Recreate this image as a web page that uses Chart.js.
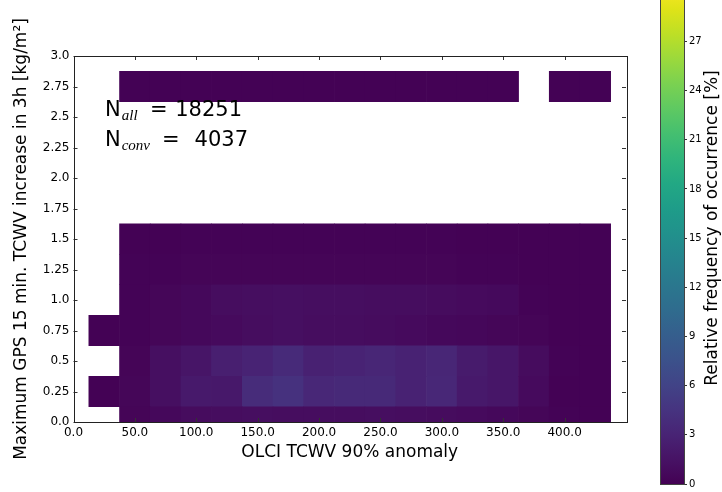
<!DOCTYPE html>
<html>
<head>
<meta charset="utf-8">
<script src="https://cdn.jsdelivr.net/npm/chart.js@4.4.1/dist/chart.umd.min.js"></script>
<style>
    html, body { margin: 0; padding: 0; background: #fff; overflow: hidden; }
    #wrap    { position: relative; width: 722px; height: 492px; overflow: hidden; }
    #mainBox { position: absolute; left: 0; top: 0; width: 650px; height: 492px; }
    #cbarBox { position: absolute; left: 640px; top: -24px; width: 82px; height: 516px; }
</style>
</head>
<body>
<div id="wrap">
    <div id="mainBox"><canvas id="hist"></canvas></div>
    <div id="cbarBox"><canvas id="cbar"></canvas></div>
</div>
<script>
// 2D histogram: OLCI TCWV anomaly vs. max GPS TCWV increase, relative frequency in %.
const xCenters = [25, 50, 75, 100, 125, 150, 175, 200, 225, 250, 275, 300, 325, 350, 375, 400, 425];
const yCenters = [0, 0.25, 0.5, 0.75, 1.0, 1.25, 1.5, 1.75, 2.0, 2.25, 2.5, 2.75];
const X_BIN = 25;
const Y_BIN = 0.25;

// one row per y bin (null = no samples in that cell)
const row000 = [null, 0.3, 0.6, 0.9, 1.0, 1.1, 1.0, 1.0, 1.0, 1.1, 1.0, 0.9, 0.8, 0.6, 0.4, 0.2, 0.1];
const row025 = [0.1, 0.4, 1.2, 2.1, 2.0, 3.8, 4.3, 3.3, 3.5, 3.5, 2.9, 3.3, 2.1, 1.8, 0.8, 0.1, 0.1];
const row050 = [null, 0.3, 1.2, 1.7, 2.6, 3.0, 3.6, 2.8, 3.0, 3.2, 2.9, 3.2, 2.2, 1.8, 0.9, 0.2, 0.1];
const row075 = [0.1, 0.2, 0.4, 0.6, 0.8, 1.0, 1.2, 1.0, 1.0, 0.9, 0.8, 0.6, 0.5, 0.4, 0.3, 0.1, 0.1];
const row100 = [null, 0.2, 0.4, 0.6, 1.0, 1.1, 1.2, 1.1, 1.1, 1.0, 1.0, 0.9, 0.8, 0.7, 0.2, 0.1, 0.1];
const row125 = [null, 0.2, 0.2, 0.3, 0.3, 0.3, 0.3, 0.3, 0.3, 0.3, 0.3, 0.3, 0.2, 0.2, 0.1, 0.1, 0.1];
const row150 = [null, 0.1, 0.1, 0.2, 0.2, 0.2, 0.2, 0.2, 0.2, 0.2, 0.2, 0.2, 0.1, 0.1, 0.1, 0.1, 0.1];
const row275 = [null, 0.05, 0.05, 0.05, 0.05, 0.05, 0.05, 0.05, 0.05, 0.05, 0.05, 0.05, 0.05, 0.05, null, 0.05, 0.05];
const rowEmpty = xCenters.map(() => null);

const freqRows = [row000, row025, row050, row075, row100, row125, row150,
                  rowEmpty, rowEmpty, rowEmpty, rowEmpty, row275];

const xTickLabels  = ['0.0', '50.0', '100.0', '150.0', '200.0', '250.0', '300.0', '350.0', '400.0'];
const yTickLabels  = ['0.0', '0.25', '0.5', '0.75', '1.0', '1.25', '1.5', '1.75', '2.0', '2.25', '2.5', '2.75', '3.0'];
const cbTickLabels = ['0', '3', '6', '9', '12', '15', '18', '21', '24', '27'];

const N_ALL  = '18251';
const N_CONV = '4037';

const CB_MIN = 0;
const CB_MAX = 30.5;

// viridis, sampled every 0.05
const VIRIDIS = [
    '#440154', '#471365', '#482475', '#463480', '#414487', '#3b528b', '#355f8d',
    '#2f6c8e', '#2a788e', '#25848e', '#21918c', '#1e9c89', '#22a884', '#2fb47c',
    '#44bf70', '#5ec962', '#7ad151', '#9bd93c', '#bddf26', '#dfe318', '#fde725',
];

function hexToRgb(h) {
    const n = parseInt(h.slice(1), 16);
    return [(n >> 16) & 255, (n >> 8) & 255, n & 255];
}

function viridis(t) {
    t = Math.min(1, Math.max(0, t));
    const pos = t * (VIRIDIS.length - 1);
    const i = Math.min(VIRIDIS.length - 2, Math.floor(pos));
    const f = pos - i;
    const a = hexToRgb(VIRIDIS[i]), b = hexToRgb(VIRIDIS[i + 1]);
    const c = a.map((v, k) => Math.round(v + (b[k] - v) * f));
    return `rgb(${c[0]},${c[1]},${c[2]})`;
}

Chart.defaults.font.family = '"DejaVu Sans"';
Chart.defaults.color = '#000';

// every row becomes a dataset of floating bars, one bar per filled cell
const datasets = yCenters.map((yc, r) => {
    const pts = [], colors = [];
    xCenters.forEach((xc, c) => {
        const v = freqRows[r][c];
        if (v == null) return;
        pts.push({ x: xc, y: [yc - Y_BIN / 2, yc + Y_BIN / 2] });
        colors.push(viridis((v - CB_MIN) / (CB_MAX - CB_MIN)));
    });
    return {
        data: pts,
        backgroundColor: colors,
        borderWidth: 0,
        barPercentage: 1,
        categoryPercentage: 1,
        grouped: false,
    };
}).filter(d => d.data.length);

// frame, inward ticks on all four sides and the sample counts
const frameAndTicks = {
    id: 'frameAndTicks',
    afterDraw(chart) {
        const { ctx, chartArea: a, scales: { x, y } } = chart;
        const L = 4;
        ctx.save();
        ctx.strokeStyle = '#333';
        ctx.lineWidth = 1;
        ctx.beginPath();
        x.ticks.forEach(t => {
            const px = Math.round(x.getPixelForValue(t.value)) + 0.5;
            ctx.moveTo(px, a.bottom); ctx.lineTo(px, a.bottom - L);
            ctx.moveTo(px, a.top);    ctx.lineTo(px, a.top + L);
        });
        y.ticks.forEach(t => {
            const py = Math.round(y.getPixelForValue(t.value)) + 0.5;
            ctx.moveTo(a.left, py);  ctx.lineTo(a.left + L, py);
            ctx.moveTo(a.right, py); ctx.lineTo(a.right - L, py);
        });
        ctx.stroke();
        ctx.strokeStyle = '#222';
        ctx.strokeRect(Math.round(a.left) + 0.5, Math.round(a.top) + 0.5,
                       Math.round(a.right - a.left), Math.round(a.bottom - a.top));

        // "N_sub = count", count right-aligned like a fixed-width field
        const drawCount = (py, sub, eqX, endX, count) => {
            ctx.fillStyle = '#000';
            ctx.textBaseline = 'alphabetic';
            ctx.textAlign = 'left';
            ctx.font = '21px "DejaVu Sans"';
            ctx.fillText('N', 105, py);
            const w = ctx.measureText('N').width;
            ctx.font = 'italic 15px "Liberation Serif"';
            ctx.fillText(sub, 105 + w + 1, py + 4);
            ctx.font = '21px "DejaVu Sans"';
            ctx.fillText('=', eqX, py);
            ctx.textAlign = 'right';
            ctx.fillText(count, endX, py);
        };
        drawCount(116, 'all', 150, 242, N_ALL);
        drawCount(146, 'conv', 162, 248, N_CONV);
        ctx.restore();
    },
};

new Chart(document.getElementById('hist'), {
    type: 'bar',
    data: { datasets },
    options: {
        responsive: true,
        maintainAspectRatio: false,
        animation: false,
        events: [],
        layout: { padding: { left: 7, right: 24, top: 56, bottom: 25 } },
        plugins: { legend: { display: false }, tooltip: { enabled: false } },
        scales: {
            x: {
                type: 'linear',
                min: 0,
                max: 450,
                offset: false,
                grid: { display: false, drawTicks: false, offset: false },
                border: { display: false },
                ticks: {
                    stepSize: 50,
                    padding: 4,
                    maxRotation: 0,
                    font: { size: 12 },
                    callback: (v, i) => xTickLabels[i],
                },
                afterBuildTicks: s => { s.ticks = s.ticks.filter(t => t.value <= 400); },
                afterFit: s => { s.height = 45; },
                title: {
                    display: true,
                    text: 'OLCI TCWV 90% anomaly',
                    font: { size: 17 },
                },
            },
            y: {
                type: 'linear',
                min: 0,
                max: 3,
                grid: { display: false, drawTicks: false },
                border: { display: false },
                ticks: {
                    stepSize: 0.25,
                    padding: 4,
                    font: { size: 12 },
                    callback: (v, i) => yTickLabels[i],
                },
                afterFit: s => { s.width = 66.5; },
                title: {
                    display: true,
                    text: 'Maximum GPS 15 min. TCWV increase in 3h [kg/m²]',
                    font: { size: 17 },
                },
            },
        },
    },
    plugins: [frameAndTicks],
});

// colour bar: gradient through its own y scale plus rotated label
const colorbarFill = {
    id: 'colorbarFill',
    afterDraw(chart) {
        const { ctx, chartArea: a, scales: { y } } = chart;
        ctx.save();
        const g = ctx.createLinearGradient(0, y.getPixelForValue(CB_MIN), 0, y.getPixelForValue(CB_MAX));
        VIRIDIS.forEach((c, i) => g.addColorStop(i / (VIRIDIS.length - 1), c));
        ctx.fillStyle = g;
        ctx.fillRect(a.left, a.top, a.right - a.left, a.bottom - a.top);
        ctx.strokeStyle = '#444';
        ctx.lineWidth = 1;
        ctx.strokeRect(Math.round(a.left) + 0.5, Math.round(a.top) + 0.5,
                       Math.round(a.right - a.left), Math.round(a.bottom - a.top));

        ctx.translate(73, (a.top + a.bottom) / 2 - 6);
        ctx.rotate(-Math.PI / 2);
        ctx.fillStyle = '#000';
        ctx.font = '17px "DejaVu Sans"';
        ctx.textAlign = 'center';
        ctx.textBaseline = 'middle';
        ctx.fillText('Relative frequency of occurrence [%]', 0, 0);
        ctx.restore();
    },
};

new Chart(document.getElementById('cbar'), {
    type: 'scatter',
    data: { datasets: [] },
    options: {
        responsive: true,
        maintainAspectRatio: false,
        animation: false,
        events: [],
        layout: { padding: { left: 20, right: 0, top: 0, bottom: 1.5 } },
        plugins: { legend: { display: false }, tooltip: { enabled: false } },
        scales: {
            x: { display: false, min: 0, max: 1 },
            y: {
                position: 'right',
                min: CB_MIN,
                max: CB_MAX,
                grid: { display: true, drawOnChartArea: false, drawTicks: true, tickLength: 3, color: '#333' },
                border: { display: false },
                ticks: {
                    stepSize: 3,
                    includeBounds: false,
                    padding: 2,
                    font: { size: 10 },
                    callback: (v, i) => cbTickLabels[i],
                },
                afterFit: s => { s.width = 38; },
            },
        },
    },
    plugins: [colorbarFill],
});
</script>
</body>
</html>
